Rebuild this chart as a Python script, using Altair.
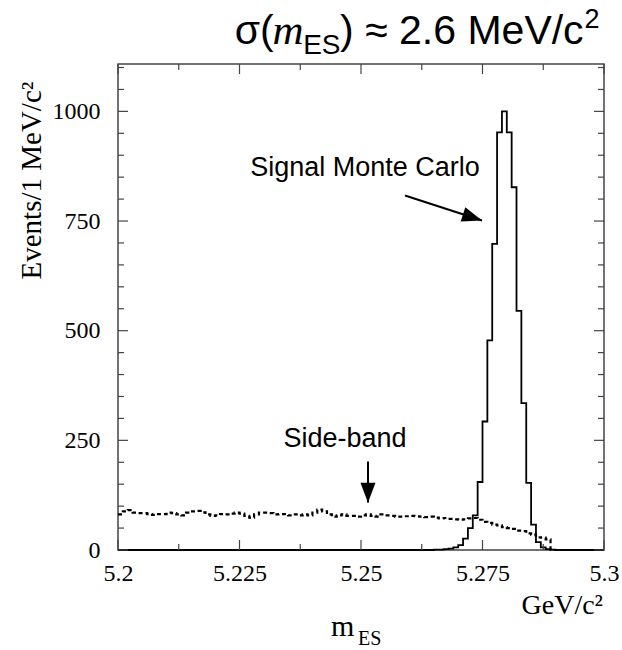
import altair as alt
import pandas as pd

# ---------------- data ----------------
# 1 MeV bins from 5.200 to 5.300 GeV/c^2 : low edges
bin_low = [round(5.2 + 0.001 * k, 3) for k in range(100)]

signal_mc = ([0] * 65 +
             [1, 1, 2, 3, 6, 11, 26, 50, 79, 155, 293, 478, 698, 952, 1000,
              952, 827, 545, 335, 153, 58, 18, 6, 2, 1] +
             [0] * 10)

side_band = [81, 88, 91, 85, 84, 84, 82, 80, 82, 82,
             85, 84, 81, 79, 85, 88, 89, 86, 81, 78,
             79, 82, 81, 83, 85, 83, 78, 74, 81, 85,
             85, 84, 81, 82, 82, 79, 81, 79, 81, 79,
             85, 92, 88, 81, 76, 79, 81, 78, 78, 76,
             79, 81, 78, 76, 81, 79, 78, 76, 76, 77,
             78, 77, 76, 75, 76, 74, 72, 73, 71, 70,
             69, 70, 72, 73, 69, 64, 62, 58, 56, 52,
             50, 48, 44, 43, 38, 35, 29, 28, 24, 0,
             0, 0, 0, 0, 0, 0, 0, 0, 0, 0]

x_major = [5.2, 5.225, 5.25, 5.275, 5.3]
x_minor = [5.2125, 5.2375, 5.2625, 5.2875]
y_major = [0, 250, 500, 750, 1000]
y_minor = [50, 100, 150, 200, 300, 350, 400, 450, 550, 600, 650, 700,
           800, 850, 900, 950, 1050, 1100]

# ---------------- layout / style ----------------
W, H = 486, 486
SERIF = "Liberation Serif"
SANS = "Liberation Sans"
FRAME = "#444444"

xs = alt.Scale(domain=[5.2, 5.3], nice=False, zero=False)
ys = alt.Scale(domain=[0, 1108], nice=False, zero=False)
x_axis = alt.Axis(
    values=x_major, format=".3~f", ticks=False, domain=False, grid=False,
    labelFont=SERIF, labelFontSize=24, labelPadding=11, labelColor="black",
    labelFlush=False, labelOverlap=False, title=None)
y_axis = alt.Axis(
    values=y_major, format="d", ticks=False, domain=False, grid=False,
    labelFont=SERIF, labelFontSize=24, labelPadding=18, labelColor="black",
    labelOverlap=False,
    title="Events/1 MeV/c²", titleFont=SERIF, titleFontSize=29,
    titleFontWeight="normal", titleColor="black", titleAngle=270,
    titleX=-87, titleY=116, titleAlign="center", titleBaseline="middle")


def X(field="x"):
    return alt.X(f"{field}:Q", scale=xs, axis=x_axis)


def Y(field="y"):
    return alt.Y(f"{field}:Q", scale=ys, axis=y_axis)


def hist_df(vals):
    return pd.DataFrame({"x": bin_low + [5.3], "y": list(vals) + [vals[-1]]})


sig = alt.Chart(hist_df(signal_mc)).mark_line(
    interpolate="step-after", color="black", strokeWidth=1.8
).encode(x=X(), y=Y())

sb = alt.Chart(hist_df(side_band)).mark_line(
    interpolate="step-after", color="black", strokeWidth=2.2, strokeDash=[4, 3]
).encode(x=X(), y=Y())


def xticks(vals, length):
    d = pd.DataFrame({"x": vals})
    bot = alt.Chart(d).mark_rule(color=FRAME, strokeWidth=1.2).encode(
        x=X(), y=alt.value(H), y2=alt.value(H - length))
    top = alt.Chart(d).mark_rule(color=FRAME, strokeWidth=1.2).encode(
        x=X(), y=alt.value(0), y2=alt.value(length))
    return [bot, top]


def yticks(vals, length):
    d = pd.DataFrame({"y": vals})
    left = alt.Chart(d).mark_rule(color=FRAME, strokeWidth=1.2).encode(
        y=Y(), x=alt.value(0), x2=alt.value(length))
    right = alt.Chart(d).mark_rule(color=FRAME, strokeWidth=1.2).encode(
        y=Y(), x=alt.value(W), x2=alt.value(W - length))
    return [left, right]


ticks = xticks(x_major, 10) + xticks(x_minor, 6) + yticks(y_major, 10) + yticks(y_minor, 6)


def label(text, x, y, font, size, align="left", style="normal"):
    d = pd.DataFrame({"x": [x], "y": [y], "t": [text]})
    return alt.Chart(d).mark_text(
        font=font, fontSize=size, align=align, baseline="alphabetic",
        fontStyle=style, color="black"
    ).encode(x=X(), y=Y(), text="t:N")


texts = [
    # title  sigma(m_ES) ~ 2.6 MeV/c^2
    label("σ(", 5.2240, 1152.5, SANS, 41),
    label("m", 5.2318, 1152.5, SERIF, 43, style="italic"),
    label("ES", 5.2381, 1129.7, SANS, 28),
    label(") ≈ 2.6 MeV/c", 5.2457, 1152.5, SANS, 41),
    label("2", 5.2960, 1191.2, SANS, 27),
    # annotations
    label("Signal Monte Carlo", 5.25082, 852.0, SANS, 27, align="center"),
    label("Side-band", 5.24671, 233.7, SANS, 27, align="center"),
    # x axis title and unit
    label("m", 5.24383, -197.0, SERIF, 30),
    label("ES", 5.24938, -216.0, SERIF, 20),
    label("GeV/c²", 5.2998, -147.0, SERIF, 28, align="right"),
]

# arrows (shaft + filled head), in data coordinates
arrow_df = pd.DataFrame({
    "x": [5.25905, 5.25144], "y": [808.2, 201.8],
    "x2": [5.27490, 5.25144], "y2": [751.2, 108.0],
})
shafts = alt.Chart(arrow_df).mark_rule(color="black", strokeWidth=2).encode(
    x=X(), y=Y(), x2="x2:Q", y2="y2:Q")

HEAD = "M0,0L-2,-0.75L-2,0.75Z"
head1 = alt.Chart(arrow_df.iloc[[0]]).mark_point(
    shape=HEAD, filled=True, size=400, angle=18, color="black", opacity=1, strokeWidth=0
).encode(x=X("x2"), y=Y("y2"))
head2 = alt.Chart(arrow_df.iloc[[1]]).mark_point(
    shape=HEAD, filled=True, size=400, angle=90, color="black", opacity=1, strokeWidth=0
).encode(x=X("x2"), y=Y("y2"))

chart = alt.layer(sig, sb, *ticks, shafts, head1, head2, *texts).properties(
    width=W, height=H,
    autosize=alt.AutoSizeParams(type="none"),
    padding={"left": 118, "top": 64, "right": 18, "bottom": 100},
).configure_view(stroke=FRAME, strokeWidth=1.5)

chart.save("out.html", embed_options={"renderer": "svg", "actions": False})
